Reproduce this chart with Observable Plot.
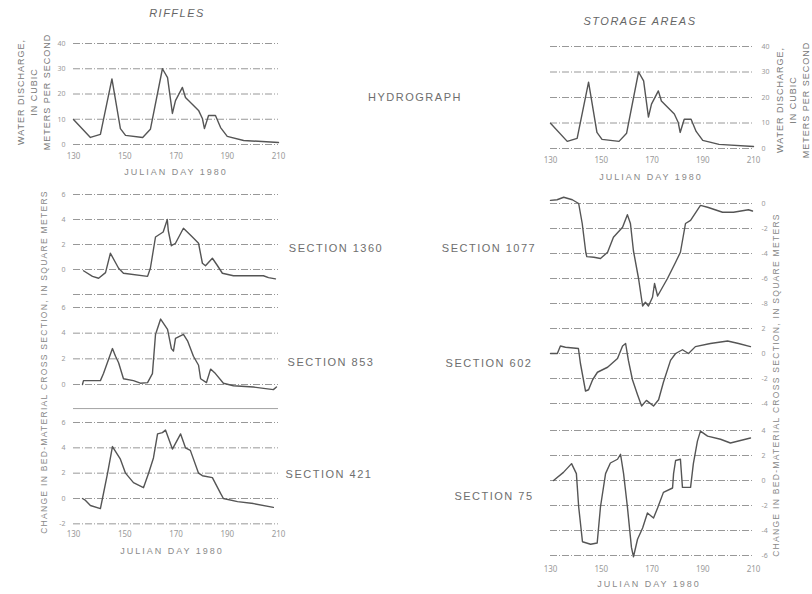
<!DOCTYPE html>
<html><head><meta charset="utf-8">
<script src="https://cdn.jsdelivr.net/npm/d3@7"></script>
<script src="https://cdn.jsdelivr.net/npm/@observablehq/plot@0.6"></script>
<style>
body{margin:0;background:#fff;}
#fig{position:relative;width:812px;height:594px;overflow:hidden;font-family:"Liberation Sans",Arial,sans-serif;color:#777;}
#fig svg{position:absolute;left:0;top:0;}
.t{position:absolute;white-space:nowrap;letter-spacing:1px;transform:translate(-50%,-50%);text-align:center;}
.r{transform:translate(-50%,-50%) rotate(-90deg);line-height:13px;}
</style></head><body><div id="fig"></div>
<script>
// ---------- data ----------
const dayTicks = [130, 150, 170, 190, 210];
const dischargeTicks = [0, 10, 20, 30, 40];

const hydroDays = [130,136.6,140.5,145,148.3,150.3,157,160,164.7,166.7,168.6,169.8,172.5,173.7,178.8,180.3,181.1,182.7,185.4,187.4,190,196.4,210];
const hydroValues = [9.9,2.8,4,26,6.3,3.6,2.8,6,30,26.5,12.3,17.4,22.6,18.6,13.5,10.3,6.3,11.5,11.5,6.7,3.2,1.6,0.8];

const sec1360Days = [133.9,137.4,139.8,142.5,144.4,147.6,149.5,158.9,160,162,165,166.6,167,168.2,169.8,172.9,176.4,178.8,180.3,181.5,184.2,186.2,188.1,192.4,204.1,206.1,208.8];
const sec1360Values = [-0.1,-0.55,-0.7,-0.25,1.3,0.1,-0.3,-0.55,0.1,2.6,3.0,4.0,3.1,1.9,2.1,3.3,2.6,2.1,0.5,0.3,0.9,0.3,-0.3,-0.5,-0.5,-0.65,-0.75];

const sec853Days = [133.5,133.9,140.5,141.7,145.2,146.4,147.6,149.5,153.4,156.1,158.9,160.8,162,164,166.7,168.2,169,169.8,172.9,174.5,176.8,178.8,179.6,181.9,183.5,185.4,188.5,192.4,200.2,208,209.2];
const sec853Values = [0,0.3,0.3,0.85,2.8,2.2,1.7,0.45,0.3,0.1,0.15,0.85,3.9,5.1,4.3,2.8,2.6,3.6,3.9,3.4,2.2,1.5,0.45,0.15,1.2,0.85,0.1,-0.1,-0.2,-0.4,-0.2];

const sec421Days = [133.5,134.7,136.6,140.5,141.3,143.3,145.2,148.3,150.3,153.4,157.3,159.3,161.2,162.8,164.7,165.9,168.6,171.8,173.7,175.6,178.8,180.3,184.2,187.4,188.5,194,200.2,208];
const sec421Values = [0,-0.15,-0.55,-0.8,0,2.0,4.1,3.1,2.0,1.25,0.85,2.0,3.2,5.1,5.2,5.4,3.9,5.1,4.0,3.8,2.0,1.8,1.65,0.4,0,-0.25,-0.4,-0.7];

const sec1077Days = [130,132.6,135.2,138.6,141.1,142.5,143.9,144.3,147.1,149.7,152.5,154.8,158.4,160.3,161.5,162.7,164.7,166.3,167.4,168.6,170.2,171,172.2,176.1,179.3,181.2,183.2,185.2,189.1,191.9,197.8,202.1,208,209.6];
const sec1077Values = [0.25,0.3,0.5,0.3,0,-1.6,-3.9,-4.25,-4.3,-4.4,-3.9,-2.7,-1.9,-0.9,-1.6,-3.8,-6,-8.2,-7.9,-8.2,-7.5,-6.4,-7.4,-6,-4.7,-3.9,-1.6,-1.35,-0.15,-0.3,-0.7,-0.7,-0.5,-0.6];

const sec602Days = [130,132.7,133.9,135.9,141,141.8,143.8,145,146.6,148.5,152.5,156.4,158.4,159.6,160.7,162.3,164.3,165.9,167.8,170.6,172.6,174.5,177.3,179.3,182,184.4,187.1,193,199.8,204.1,208.8];
const sec602Values = [0,0,0.6,0.5,0.4,-0.8,-3,-2.9,-2.1,-1.5,-1.1,-0.4,0.6,0.8,-0.55,-2.1,-3.3,-4.2,-3.75,-4.2,-3.7,-2.3,-0.55,0,0.3,0,0.55,0.8,1.0,0.8,0.55];

const sec75Days = [131.2,135.1,138.3,140.2,141.1,142.6,145.8,148.4,149.7,151.7,153.6,156.4,157.6,158.8,160.3,161.9,162.7,164.3,166.3,168.2,170.6,172.2,174.5,178.1,178.5,179.3,181.2,182,185.2,186.3,187.9,189.1,191.9,197,200.9,208.8];
const sec75Values = [0,0.65,1.35,0.55,-2.1,-4.9,-5.1,-5,-2.1,0.55,1.4,1.7,2.1,0.55,-2.1,-5.35,-6.1,-4.7,-3.8,-2.6,-3,-2.2,-0.95,-0.6,0.55,1.6,1.7,-0.55,-0.55,1.35,3.15,3.95,3.55,3.3,3.0,3.4];

const grid1360 = [-2, 0, 2, 4, 6], labels1360 = [0, 2, 4, 6];
const grid853 = [0, 2, 4, 6], labels853 = [0, 2, 4, 6];
const grid421 = [-2, 0, 2, 4, 6], labels421 = [-2, 0, 2, 4, 6];
const grid1077 = [0, -2, -4, -6, -8], labels1077 = [0, -2, -4, -6, -8];
const grid602 = [2, 0, -2, -4], labels602 = [2, 0, -2, -4];
const grid75 = [4, 2, 0, -2, -4, -6], labels75 = [4, 2, 0, -2, -4, -6];

// ---------- drawing ----------
const W = 812, H = 594;
const fig = document.getElementById("fig");
const rows = (xs, ys) => xs.map((d, i) => ({day: d, value: ys[i]}));

function panel(cfg) {
  const [v0, p0] = cfg.ref0, [v1, p1] = cfg.ref1;
  const k = (v1 - v0) / (p1 - p0);
  const v = px => v0 + (px - p0) * k;
  const marks = [
    Plot.ruleY(cfg.grid, {stroke: "#8c8c8c", strokeWidth: 0.9, strokeDasharray: "7,2,1,2"}),
    Plot.axisY({anchor: cfg.side, ticks: cfg.labels, tickSize: 0, tickPadding: 8, fontSize: 7, color: "#999", label: null, tickFormat: d => String(d)}),
    Plot.line(cfg.data, {x: "day", y: "value", stroke: "#555", strokeWidth: 1.4, curve: "linear"})
  ];
  if (cfg.extraRules) marks.unshift(Plot.ruleY(cfg.extraRules, {stroke: "#999", strokeWidth: 0.9}));
  if (cfg.xAxis) marks.push(Plot.axisX({ticks: dayTicks, tickSize: 0, tickPadding: cfg.xPad || 9, fontSize: 8, color: "#9a9a9a", label: null, tickFormat: d => String(d)}));
  const svg = Plot.plot({
    width: W, height: H,
    marginLeft: cfg.x0, marginRight: W - cfg.x1, marginTop: cfg.top, marginBottom: H - cfg.bottom,
    x: cfg.xAxis ? {domain: [130, 210]} : {domain: [130, 210], axis: null},
    y: {domain: [v(cfg.bottom), v(cfg.top)]},
    style: {background: "transparent", overflow: "visible"},
    marks
  });
  fig.appendChild(svg);
}

// left column (riffles)
panel({x0: 73, x1: 278, top: 43, bottom: 144, ref0: [0, 144], ref1: [40, 43], grid: dischargeTicks, labels: dischargeTicks, side: "left", data: rows(hydroDays, hydroValues), xAxis: true});
panel({x0: 73, x1: 278, top: 194, bottom: 294, ref0: [0, 269], ref1: [6, 194], grid: grid1360, labels: labels1360, side: "left", data: rows(sec1360Days, sec1360Values)});
panel({x0: 73, x1: 278, top: 300, bottom: 395, ref0: [0, 384], ref1: [6, 307], grid: grid853, labels: labels853, side: "left", data: rows(sec853Days, sec853Values)});
panel({x0: 73, x1: 278, top: 408, bottom: 524, ref0: [0, 498], ref1: [6, 422], grid: grid421, labels: labels421, side: "left", data: rows(sec421Days, sec421Values), extraRules: [7.1], xAxis: true, xPad: 7});

// right column (storage areas)
panel({x0: 550, x1: 753, top: 46, bottom: 148, ref0: [0, 148], ref1: [40, 46], grid: dischargeTicks, labels: dischargeTicks, side: "right", data: rows(hydroDays, hydroValues), xAxis: true});
panel({x0: 550, x1: 753, top: 196, bottom: 310, ref0: [0, 203], ref1: [-8, 303], grid: grid1077, labels: labels1077, side: "right", data: rows(sec1077Days, sec1077Values)});
panel({x0: 550, x1: 753, top: 320, bottom: 410, ref0: [0, 353], ref1: [2, 328], grid: grid602, labels: labels602, side: "right", data: rows(sec602Days, sec602Values)});
panel({x0: 550, x1: 753, top: 425, bottom: 557, ref0: [0, 480], ref1: [4, 430], grid: grid75, labels: labels75, side: "right", data: rows(sec75Days, sec75Values), xAxis: true, xPad: 9});

// text
function txt(s, x, y, style, cls) {
  const d = document.createElement("div");
  d.className = "t" + (cls ? " " + cls : "");
  d.innerHTML = s;
  d.style.left = x + "px"; d.style.top = y + "px";
  Object.assign(d.style, style || {});
  fig.appendChild(d);
}
const big = {fontSize: "11px", letterSpacing: "1.5px", color: "#6e6e6e"};
txt("RIFFLES", 177, 13, {fontSize: "11px", fontStyle: "italic", letterSpacing: "1.5px", color: "#666"});
txt("STORAGE AREAS", 640, 21, {fontSize: "11px", fontStyle: "italic", letterSpacing: "1.5px", color: "#666"});
txt("HYDROGRAPH", 415, 97, big);
txt("SECTION 1360", 336, 248, big);
txt("SECTION 1077", 489, 248, big);
txt("SECTION 853", 331, 362, big);
txt("SECTION 602", 489, 363, big);
txt("SECTION 421", 329, 474, big);
txt("SECTION 75", 494, 496, big);
const jd = {fontSize: "9px", letterSpacing: "2px", color: "#8a8a8a"};
txt("JULIAN DAY 1980", 176, 172, jd);
txt("JULIAN DAY 1980", 651, 177, jd);
txt("JULIAN DAY 1980", 172, 551, jd);
txt("JULIAN DAY 1980", 649, 584, jd);
const ax = {fontSize: "9px", letterSpacing: "1px", color: "#777"};
txt("WATER DISCHARGE,<br>IN CUBIC<br>METERS PER SECOND", 34, 92, ax, "r");
txt("WATER DISCHARGE,<br>IN CUBIC<br>METERS PER SECOND", 793, 100, ax, "r");
txt("CHANGE IN BED-MATERIAL CROSS SECTION, IN SQUARE METERS", 44, 362, {fontSize: "8.5px", letterSpacing: "1.3px", color: "#888"}, "r");
txt("CHANGE IN BED-MATERIAL CROSS SECTION, IN SQUARE METERS", 776, 385, {fontSize: "8.5px", letterSpacing: "1.3px", color: "#888"}, "r");
</script></body></html>
